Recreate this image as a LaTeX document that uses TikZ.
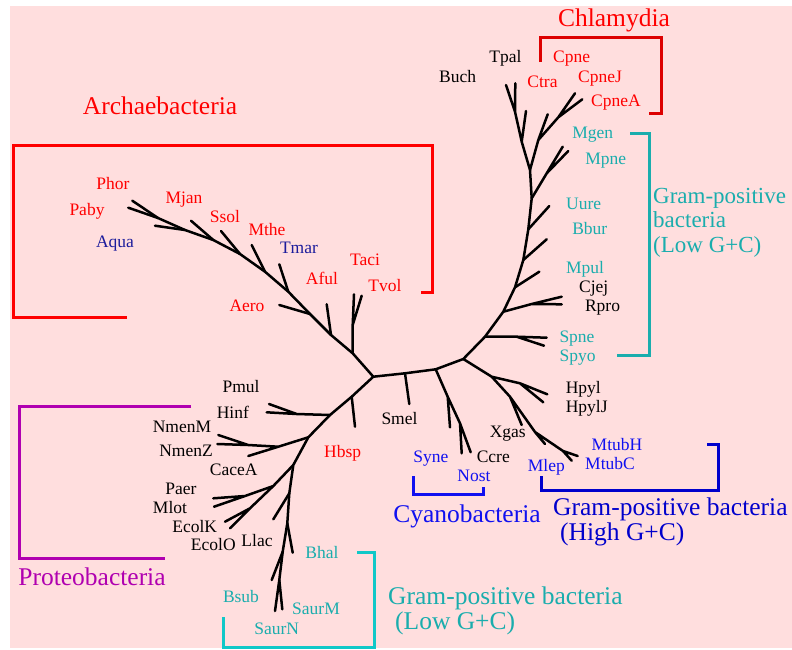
\documentclass[tikz,border=0pt]{standalone}
\usepackage{fontspec}
\setmainfont{Liberation Serif}
\definecolor{bgpink}{HTML}{FFDEDE}
\definecolor{myred}{HTML}{FF0000}
\definecolor{chlred}{HTML}{DD0000}
\definecolor{navy}{HTML}{1C1C9C}
\definecolor{myblue}{HTML}{1010F0}
\definecolor{hblue}{HTML}{0000CC}
\definecolor{teal}{HTML}{1AADAD}
\definecolor{cyanb}{HTML}{10C8C8}
\definecolor{mag}{HTML}{B000B0}
\begin{document}
\begin{tikzpicture}[x=1pt,y=-1pt,
  br/.style={line width=2.5pt, line cap=round, line join=round},
  bk/.style={line width=3pt},
  lab/.style={font=\fontsize{17.5}{20}\selectfont, inner sep=0pt, text height=12pt, text depth=1pt},
  big/.style={font=\fontsize{25.5}{28}\selectfont, inner sep=0pt, text height=17pt, text depth=0pt},
  side/.style={font=\fontsize{23}{26}\selectfont, inner sep=0pt, text height=15pt, text depth=0pt, anchor=west}]
\useasboundingbox (0,0) rectangle (792,649);
\fill[bgpink] (10,6) rectangle (792,648);

% ---------- tree coordinates ----------
\coordinate (root) at (373.3,376.7);
% archaea
\coordinate (a1) at (352.7,353.3);
\coordinate (a1f) at (352.7,325);
\coordinate (tTaci) at (354,294.3);
\coordinate (tTvol) at (361.7,295.7);
\coordinate (a2) at (331,335);
\coordinate (tAful) at (326.7,304.3);
\coordinate (a3) at (310,314);
\coordinate (tAero) at (279.3,305);
\coordinate (a4) at (288.3,291.7);
\coordinate (tTmar) at (279.3,264.3);
\coordinate (a5) at (265,271.7);
\coordinate (tMthe) at (251.7,245);
\coordinate (a6) at (240,254);
\coordinate (tSsol) at (221,231);
\coordinate (a7) at (213.3,240);
\coordinate (tMjan) at (191,220.7);
\coordinate (a8) at (185,230);
\coordinate (tAqua) at (155,225.7);
\coordinate (a9) at (158,218);
\coordinate (tPhor) at (132.3,200.7);
\coordinate (tPaby) at (128.3,207.7);
% right lower
\coordinate (s1) at (405,373.3);
\coordinate (tSmel) at (409.3,404);
\coordinate (c1) at (435.7,369.3);
\coordinate (c2) at (447.7,396.7);
\coordinate (tSyne) at (450,427.3);
\coordinate (c3) at (460,423.3);
\coordinate (tNost) at (461.7,453.3);
\coordinate (tCcre) at (470.7,452.3);
\coordinate (r3) at (463.3,359);
\coordinate (hx) at (491.7,376.7);
\coordinate (h1) at (520,383.3);
\coordinate (tHpyl) at (547.3,394.3);
\coordinate (tHpylJ) at (543.3,402.3);
\coordinate (x1) at (510,396.7);
\coordinate (tXgas) at (521.7,425);
\coordinate (m1) at (535,432);
\coordinate (tMlep) at (545,444);
\coordinate (m2) at (563,451);
\coordinate (tMtubH) at (577.7,456);
\coordinate (tMtubC) at (571.7,460.7);
% upper right
\coordinate (g1) at (485,336.7);
\coordinate (g1f) at (516.7,336.7);
\coordinate (tSpne) at (546.7,337.7);
\coordinate (tSpyo) at (544,345.7);
\coordinate (g2) at (503.3,311.7);
\coordinate (g2f) at (531.7,304);
\coordinate (tCjej) at (561.7,296.7);
\coordinate (tRpro) at (561.7,304.3);
\coordinate (g3) at (515,287.3);
\coordinate (tMpul) at (539.3,271.7);
\coordinate (g4) at (523.3,260);
\coordinate (tBbur) at (546.7,239.3);
\coordinate (g5) at (528.3,229.3);
\coordinate (tUure) at (549.3,206);
\coordinate (g6) at (531.7,198.3);
\coordinate (g6f) at (546.7,173.3);
\coordinate (tMgen) at (562.7,146.7);
\coordinate (tMpne) at (568.3,151);
\coordinate (t0) at (530,170);
\coordinate (l1) at (521.7,141.7);
\coordinate (tL1) at (526,111);
\coordinate (l2) at (515,111.7);
\coordinate (tBuch) at (506,85);
\coordinate (tTpal) at (515.3,83.3);
\coordinate (q1) at (538.3,140);
\coordinate (tQ1) at (547.7,114.3);
\coordinate (q2) at (558.3,117.3);
\coordinate (tCpne) at (575,93.3);
\coordinate (tCpneA) at (582.3,99.3);
% proteobacteria / lower
\coordinate (p1) at (351.7,396.7);
\coordinate (tHbsp) at (355,426.7);
\coordinate (p2) at (330,415);
\coordinate (p2f) at (296.7,414);
\coordinate (tPmul) at (269,404);
\coordinate (tHinf) at (266.7,412.3);
\coordinate (p3) at (308.3,437.3);
\coordinate (p3b) at (278.3,446.7);
\coordinate (p3f) at (248.3,445);
\coordinate (tNmenM) at (218.3,435);
\coordinate (tNmenZ) at (217.3,444);
\coordinate (tCace) at (248.3,456);
\coordinate (p4) at (293.3,465);
\coordinate (p4b) at (273.3,486);
\coordinate (p4f) at (245,496);
\coordinate (tPaer) at (213.3,498.3);
\coordinate (tMlot) at (214,506.7);
\coordinate (p4g) at (250,508.3);
\coordinate (tEcolK) at (225,521.7);
\coordinate (tEcolO) at (230,528.3);
\coordinate (p5) at (289.3,493.3);
\coordinate (tLlac) at (273.3,519.3);
\coordinate (p6) at (287.3,523.3);
\coordinate (tBhal) at (292.7,552.7);
\coordinate (p7) at (282.7,551.7);
\coordinate (tBsub) at (271.7,580);
\coordinate (p8) at (279.3,580);
\coordinate (tSaurN) at (275,611);
\coordinate (tSaurM) at (282.3,609.3);

% ---------- tree edges ----------
\draw[br] (root)--(a1)--(a2)--(a3)--(a4)--(a5)--(a6)--(a7)--(a8)--(a9)--(tPhor);
\draw[br] (a9)--(tPaby) (a8)--(tAqua) (a7)--(tMjan) (a6)--(tSsol) (a5)--(tMthe)
  (a4)--(tTmar) (a3)--(tAero) (a2)--(tAful) (a1)--(a1f)--(tTaci) (a1f)--(tTvol);
\draw[br] (root)--(s1)--(c1)--(r3)--(g1)--(g2)--(g3)--(g4)--(g5)--(g6)--(t0);
\draw[br] (s1)--(tSmel) (c1)--(c2)--(tSyne) (c2)--(c3)--(tNost) (c3)--(tCcre);
\draw[br] (r3)--(hx)--(h1)--(tHpyl) (h1)--(tHpylJ) (hx)--(x1)--(tXgas) (x1)--(m1)--(tMlep)
  (m1)--(m2)--(tMtubH) (m2)--(tMtubC);
\draw[br] (g1)--(g1f)--(tSpne) (g1f)--(tSpyo) (g2)--(g2f)--(tCjej) (g2f)--(tRpro)
  (g3)--(tMpul) (g4)--(tBbur) (g5)--(tUure) (g6)--(g6f)--(tMgen) (g6f)--(tMpne);
\draw[br] (t0)--(l1)--(l2)--(tBuch) (l2)--(tTpal) (l1)--(tL1)
  (t0)--(q1)--(tQ1) (q1)--(q2)--(tCpne) (q2)--(tCpneA);
\draw[br] (root)--(p1)--(p2)--(p3)--(p4)--(p5)--(p6)--(p7)--(p8)--(tSaurN);
\draw[br] (p8)--(tSaurM) (p7)--(tBsub) (p6)--(tBhal) (p5)--(tLlac)
  (p4)--(p4b)--(p4f)--(tPaer) (p4f)--(tMlot) (p4b)--(p4g)--(tEcolK) (p4g)--(tEcolO)
  (p3)--(p3b)--(p3f)--(tNmenM) (p3f)--(tNmenZ) (p3b)--(tCace)
  (p2)--(p2f)--(tPmul) (p2f)--(tHinf) (p1)--(tHbsp);

% ---------- brackets ----------
\draw[bk,myred] (127,317)--(13,317)--(13,145)--(432,145)--(432,292)--(421,292);
\draw[bk,chlred] (540,62)--(540,37)--(661,37)--(661,113)--(649,113);
\draw[bk,teal] (630,133)--(649,133)--(649,355)--(617,355);
\draw[bk,myblue] (413,476)--(413,494)--(483,494)--(483,487);
\draw[bk,hblue] (541,476)--(541,490)--(718,490)--(718,444)--(707,444);
\draw[bk,mag] (191,406)--(19,406)--(19,558)--(165,558);
\draw[bk,cyanb] (357,552)--(374,552)--(374,647)--(223,647)--(223,617);

% ---------- leaf labels ----------
\node[lab,myred] (lPhor) at (113,184) {Phor};
\node[lab,myred] (lPaby) at (87,210) {Paby};
\node[lab,navy] (lAqua) at (115,242) {Aqua};
\node[lab,myred] (lMjan) at (184,198) {Mjan};
\node[lab,myred] (lSsol) at (225,217) {Ssol};
\node[lab,myred] (lMthe) at (267,230) {Mthe};
\node[lab,navy] (lTmar) at (299,248) {Tmar};
\node[lab,myred] (lTaci) at (365,260) {Taci};
\node[lab,myred] (lAful) at (322,279) {Aful};
\node[lab,myred] (lTvol) at (385,286) {Tvol};
\node[lab,myred] (lAero) at (247,306) {Aero};

\node[lab] (lTpal) at (505.5,57) {Tpal};
\node[lab] (lBuch) at (457.7,77) {Buch};
\node[lab,myred] (lCtra) at (542.5,82) {Ctra};
\node[lab,myred] (lCpne) at (571.7,57) {Cpne};
\node[lab,myred] (lCpneJ) at (600,77) {CpneJ};
\node[lab,myred] (lCpneA) at (616,101) {CpneA};
\node[lab,teal] (lMgen) at (592.7,133) {Mgen};
\node[lab,teal] (lMpne) at (605.8,159) {Mpne};
\node[lab,teal] (lUure) at (583.6,204) {Uure};
\node[lab,teal] (lBbur) at (589.8,229) {Bbur};
\node[lab,teal] (lMpul) at (585,268) {Mpul};
\node[lab] (lCjej) at (593.7,287) {Cjej};
\node[lab] (lRpro) at (602.5,306) {Rpro};
\node[lab,teal] (lSpne) at (577,337) {Spne};
\node[lab,teal] (lSpyo) at (577.7,356) {Spyo};

\node[lab] (lSmel) at (399.5,419) {Smel};
\node[lab,myblue] (lSyne) at (430.8,457) {Syne};
\node[lab] (lCcre) at (493.3,457) {Ccre};
\node[lab,myblue] (lNost) at (474,476) {Nost};
\node[lab] (lXgas) at (507.8,432) {Xgas};
\node[lab] (lHpyl) at (583.3,387.7) {Hpyl};
\node[lab] (lHpylJ) at (586.7,406.7) {HpylJ};
\node[lab,myblue] (lMtubH) at (617,445) {MtubH};
\node[lab,myblue] (lMtubC) at (610,464) {MtubC};
\node[lab,myblue] (lMlep) at (546.3,466) {Mlep};

\node[lab,myred] (lHbsp) at (342.7,451.7) {Hbsp};
\node[lab] (lPmul) at (241,387) {Pmul};
\node[lab] (lHinf) at (232.8,413) {Hinf};
\node[lab] (lNmenM) at (182,426.7) {NmenM};
\node[lab] (lNmenZ) at (186,450.7) {NmenZ};
\node[lab] (lCaceA) at (233.7,470) {CaceA};
\node[lab] (lPaer) at (181,489) {Paer};
\node[lab] (lMlot) at (170,508) {Mlot};
\node[lab] (lEcolK) at (194.7,526.7) {EcolK};
\node[lab] (lEcolO) at (213.3,545) {EcolO};
\node[lab] (lLlac) at (257,541) {Llac};
\node[lab,teal] (lBhal) at (322,553) {Bhal};
\node[lab,teal] (lBsub) at (241,597) {Bsub};
\node[lab,teal] (lSaurM) at (316,609) {SaurM};
\node[lab,teal] (lSaurN) at (276.7,629) {SaurN};

% ---------- group labels ----------
\node[big,myred] (gArch) at (160,106) {Archaebacteria};
\node[big,myred] (gChl) at (614,18) {Chlamydia};
\node[big,myblue] (gCya) at (467,514) {Cyanobacteria};
\node[big,mag] (gPro) at (92,577) {Proteobacteria};
\node[big,hblue,anchor=west] (gHi1) at (553,507) {Gram-positive bacteria};
\node[big,hblue,anchor=west] (gHi2) at (560,532) {(High G+C)};
\node[big,teal,anchor=west] (gLo1) at (388,596) {Gram-positive bacteria};
\node[big,teal,anchor=west] (gLo2) at (395,621) {(Low G+C)};
\node[side,teal] (gUp1) at (653,196) {Gram-positive};
\node[side,teal] (gUp2) at (653,220) {bacteria};
\node[side,teal] (gUp3) at (653,245) {(Low G+C)};
\end{tikzpicture}
\end{document}
